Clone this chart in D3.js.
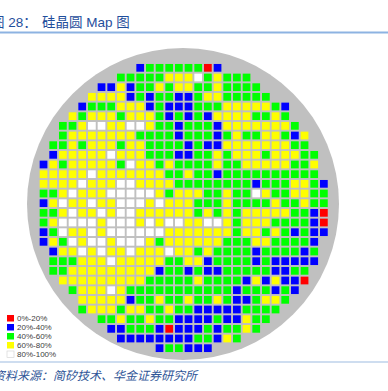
<!DOCTYPE html>
<html>
<head>
<meta charset="utf-8">
<script src="https://cdn.jsdelivr.net/npm/d3@7"></script>
<style>
  body { margin: 0; background: #fff; }
  svg { display: block; }
</style>
</head>
<body>
<div id="chart"></div>
<script>
// wafer map: first column of each row + one letter per die
// R = 0-20%, B = 20-40%, G = 40-60%, Y = 60-80%, W = 80-100%
const rowStart = [10, 8, 6, 5, 4, 3, 2, 2, 1, 1, 0, 0, 0, 0, 0, 0, 0, 0, 0, 1, 1, 1, 2, 3, 4, 4, 6, 7, 8, 12];
const rowBins = [
    "BGGGGGGRB",
    "GGGGGYYYWGYGGG",
    "BBYBGGYGYYGGYGGGG",
    "YYYYBGBGGBBGYYGGGGG",
    "BGGGYYYBGBBBGGGYYYYYGB",
    "YGYYYGYYYGBGBGBYYYYGGYG",
    "GGYWWYYWWYGGBGGGBYYYYYYYG",
    "GYYYYYYYGGGGBGGGBGYGGYYGBY",
    "GGYGYYYGYYGGGGBGBBYYYYYYYGG",
    "BYYYYYWYYYGGGBBGGYGYYYGYYYGG",
    "BYGYYYYYGWYYGYGGGGYGGYYYYYGGY",
    "YYYYYWYYYYYYYGGYGGBGGGGGGGGGG",
    "YYYYWYYYWWYYYYGGGGGGGGBGGGYYGB",
    "GGYWYYYWWWWWYGYYYGGYGGWYGGYYGG",
    "BYWYYWYYWWWYWYYYGGGYGGGGYGGYGG",
    "GGYWYYWYWWYYYYYYGYGYGYYYYYGGBR",
    "GYWWWWYWWWYWYWWYYWWYGYYYGGGGBR",
    "BGWYYWYWWWWWWYYYYYYYGYYGYGBGBB",
    "BYGWYWWYWWWYGYYYYYYGGGYYGGGGB",
    "BYYWYWYYWYYYWYYGYGGGGBGGGGBG",
    "GGGYYYWYYYYYGGYYBGGGGBGBBBBB",
    "GGYYYYYYYYYBGGBGBBGGGGGBBGG",
    "YYYYYYYYYGGGGGYGGGGBYBYBBR",
    "GYYYWYGGGGGGGGGGGBGGGBGB",
    "YYYYYBGGYGGYGGYGBBGYYG",
    "GYYYGYYGGYGGBBBBBGGGG",
    "GGYGGYGGBBBBGBBYGG",
    "BBGGGBRBBBGBGGYG",
    "BBBBBBBBGGBYG",
    "BGGBBB"
];
const binKeys = ["R", "B", "G", "Y", "W"];
const binLabels = ["0%-20%", "20%-40%", "40%-60%", "60%-80%", "80%-100%"];
const binColors = ["#ff0000", "#0000ff", "#00ff00", "#ffff00", "#ffffff"];
const titleParts = ["图 28：", "硅晶圆 Map 图"];
const sourceText = "资料来源：简矽技术、华金证券研究所";

const W = 388, H = 391;
const nCols = 30, nRows = 30;

const svg = d3.select("#chart").append("svg")
    .attr("width", W)
    .attr("height", H)
    .style("font-family", "'Liberation Sans', 'Noto Sans CJK SC', sans-serif");

// flatten rows into die records
const dies = [];
rowBins.forEach((s, r) => {
    s.split("").forEach((b, i) => {
        dies.push({ row: r, col: rowStart[r] + i, bin: b });
    });
});

const x = d3.scaleBand()
    .domain(d3.range(nCols))
    .range([38.7, 38.7 + nCols * 9.667])
    .paddingInner(0.2)
    .paddingOuter(0.1);

const y = d3.scaleBand()
    .domain(d3.range(nRows))
    .range([63, 63 + nRows * 9.667])
    .paddingInner(0.2)
    .paddingOuter(0.1);

const color = d3.scaleOrdinal()
    .domain(binKeys)
    .range(binColors);

// title
const title = svg.append("text")
    .attr("x", -9)
    .attr("y", 27)
    .style("font-size", "13.5px")
    .style("fill", "#1f4e9c");
title.append("tspan").text(titleParts[0]);
title.append("tspan").attr("x", 42).text(titleParts[1]);

svg.append("line")
    .attr("x1", 0).attr("x2", W)
    .attr("y1", 32.5).attr("y2", 32.5)
    .attr("stroke", "#8db3e2")
    .attr("stroke-width", 2);

// wafer disc
svg.append("circle")
    .attr("cx", 183)
    .attr("cy", 204)
    .attr("r", 156)
    .attr("fill", "#c0c0c0");

// dies
svg.append("g")
    .selectAll("rect")
    .data(dies)
    .enter()
    .append("rect")
    .attr("x", d => x(d.col))
    .attr("y", d => y(d.row))
    .attr("width", x.bandwidth())
    .attr("height", y.bandwidth())
    .attr("fill", d => color(d.bin));

// legend
const legend = svg.append("g")
    .attr("transform", "translate(7, 315)");

const items = legend.selectAll("g")
    .data(binKeys)
    .enter()
    .append("g")
    .attr("transform", (d, i) => `translate(0, ${i * 9})`);

items.append("rect")
    .attr("width", 7)
    .attr("height", 6.5)
    .attr("fill", d => color(d))
    .attr("stroke", d => d === "W" ? "#d0d0d0" : "none")
    .attr("stroke-width", 0.6);

items.append("text")
    .attr("x", 10)
    .attr("y", 3.3)
    .attr("dy", "0.35em")
    .style("font-size", "8px")
    .style("fill", "#404040")
    .text((d, i) => binLabels[i]);

// source
svg.append("line")
    .attr("x1", 0).attr("x2", W)
    .attr("y1", 362).attr("y2", 362)
    .attr("stroke", "#9dbbe0")
    .attr("stroke-width", 1);

svg.append("text")
    .attr("x", -7)
    .attr("y", 380)
    .style("font-size", "12px")
    .style("font-style", "italic")
    .style("fill", "#2f5597")
    .text(sourceText);
</script>
</body>
</html>
